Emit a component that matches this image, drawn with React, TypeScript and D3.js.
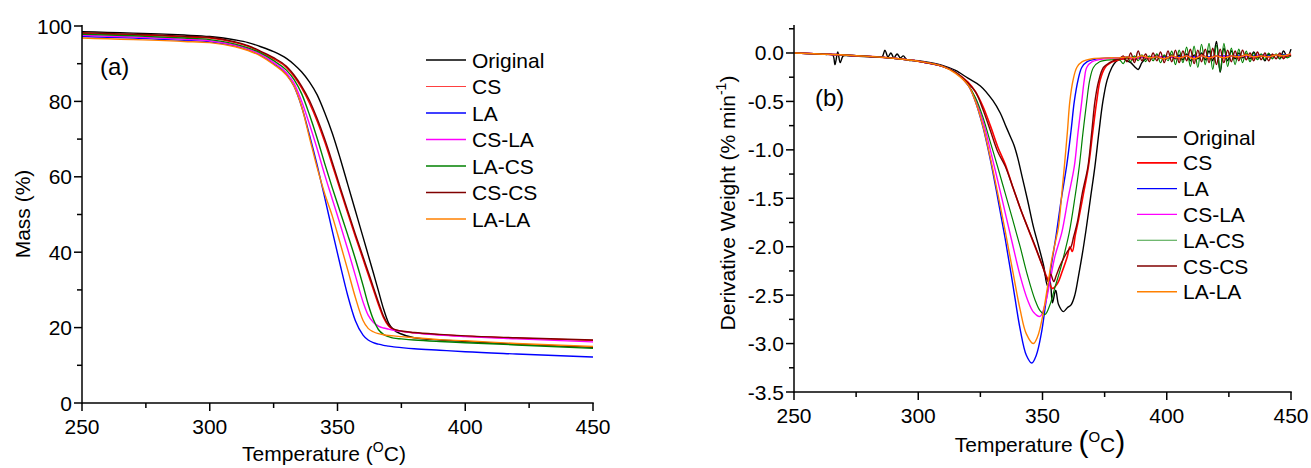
import React from 'react';
import * as d3 from 'd3';

// ---------- shared ----------
const seriesNames = ['Original', 'CS', 'LA', 'CS-LA', 'LA-CS', 'CS-CS', 'LA-LA'];
const seriesColors = ['#000000', '#ff0000', '#0000ff', '#ff00ff', '#008000', '#800000', '#ff8000'];

const xTicksMajor = [250, 300, 350, 400, 450];
const xTicksMinor = [275, 325, 375, 425];

// ---------- panel (a): TGA mass (%) ----------
const massTicksMajor = [0, 20, 40, 60, 80, 100];
const massTicksMinor = [10, 30, 50, 70, 90];

const tgaTemps = [250, 260, 270, 280, 290, 300, 310, 315, 320, 325, 330, 333, 336, 339, 342, 345, 348, 351, 354, 357, 360, 362, 364, 366, 368, 370, 372, 375, 380, 390, 400, 420, 450];

const tgaOriginal = [98.5, 98.3, 98.1, 97.9, 97.6, 97.2, 96.3, 95.6, 94.5, 93.2, 91.4, 89.8, 87.8, 85.2, 81.8, 77.0, 71.5, 65.0, 58.0, 51.0, 44.0, 39.3, 34.6, 29.8, 25.0, 21.2, 19.4, 18.3, 17.3, 16.7, 16.3, 15.6, 14.8];
const tgaCS = [98.0, 97.8, 97.6, 97.4, 97.1, 96.8, 95.6, 94.6, 93.1, 91.3, 89.0, 86.6, 83.5, 79.6, 74.8, 69.2, 63.0, 56.6, 50.3, 44.1, 38.1, 34.1, 30.1, 26.1, 22.6, 20.4, 19.5, 19.0, 18.6, 18.1, 17.7, 17.2, 16.6];
const tgaLA = [97.2, 97.0, 96.8, 96.5, 96.2, 95.8, 94.7, 93.7, 92.2, 90.0, 87.2, 84.0, 78.5, 71.2, 63.2, 54.5, 45.5, 36.8, 28.5, 21.8, 18.0, 16.7, 16.0, 15.6, 15.3, 15.1, 14.9, 14.7, 14.4, 14.0, 13.6, 13.0, 12.2];
const tgaCSLA = [97.5, 97.3, 97.1, 96.8, 96.5, 96.1, 94.9, 93.9, 92.4, 90.3, 87.6, 84.8, 80.0, 74.0, 67.5, 60.5, 54.0, 47.5, 40.8, 33.8, 26.8, 23.3, 21.4, 20.4, 19.9, 19.6, 19.3, 19.0, 18.6, 18.0, 17.6, 17.0, 16.2];
const tgaLACS = [97.8, 97.6, 97.4, 97.1, 96.8, 96.4, 95.2, 94.2, 92.8, 90.8, 88.3, 85.8, 82.0, 76.5, 70.3, 63.5, 57.0, 50.8, 44.6, 38.2, 31.2, 26.2, 22.2, 19.5, 18.2, 17.6, 17.2, 17.0, 16.7, 16.3, 16.0, 15.4, 14.5];
const tgaCSCS = [98.2, 98.0, 97.8, 97.6, 97.3, 97.0, 95.8, 94.8, 93.3, 91.6, 89.3, 87.0, 84.0, 80.3, 75.5, 70.0, 63.8, 57.3, 51.0, 44.8, 38.8, 34.8, 30.8, 26.8, 23.1, 20.7, 19.6, 19.1, 18.7, 18.2, 17.8, 17.3, 16.7];
const tgaLALA = [96.8, 96.6, 96.4, 96.2, 95.9, 95.6, 94.5, 93.5, 92.0, 89.8, 87.0, 84.0, 78.5, 70.5, 62.5, 55.5, 49.5, 42.5, 35.3, 28.0, 21.9, 19.8, 18.9, 18.4, 18.1, 17.9, 17.8, 17.6, 17.3, 16.8, 16.5, 15.8, 15.0];

const tgaSeries = [tgaOriginal, tgaCS, tgaLA, tgaCSLA, tgaLACS, tgaCSCS, tgaLALA];

// ---------- panel (b): DTG derivative weight ----------
const dtgTicksMajor = [0, -0.5, -1.0, -1.5, -2.0, -2.5, -3.0, -3.5];
const dtgTicksMinor = [0.25, -0.25, -0.75, -1.25, -1.75, -2.25, -2.75, -3.25];

const dtgOriginal: [number, number][] = [
  [250, 0], [255, -0.005], [260, -0.01], [263, -0.015], [265.6, -0.02], [266.5, -0.12], [267.6, 0.01], [268.6, -0.1], [269.8, -0.03], [272, -0.03], [276, -0.035], [280, -0.04], [284, -0.045], [285.5, -0.04], [286.6, 0.03], [287.8, -0.04], [289, 0.0], [290.2, -0.05], [291.5, -0.01], [292.8, -0.05], [294, -0.03], [295.5, -0.07], [300, -0.08], [305, -0.1], [310, -0.13], [315, -0.18], [320, -0.26], [325, -0.34], [330, -0.49], [333, -0.62], [335, -0.74], [337, -0.86], [338.5, -0.95], [340, -1.08], [342, -1.3], [344, -1.52], [346.3, -1.79], [348.5, -2.0], [350.5, -2.2], [352, -2.4], [353, -2.35], [354, -2.58], [355.3, -2.45], [356.5, -2.6], [358.4, -2.67], [360, -2.63], [361.5, -2.6], [363, -2.5], [364.5, -2.3], [366, -2.08], [367.5, -1.83], [369.3, -1.5], [371.1, -1.17], [372.7, -0.82], [374.3, -0.5], [376, -0.28], [377.9, -0.15], [379.5, -0.09],
];
const dtgCS: [number, number][] = [
  [250, 0], [260, -0.01], [270, -0.02], [280, -0.035], [290, -0.055], [300, -0.085], [310, -0.14], [315, -0.2], [320, -0.3], [323, -0.4], [326, -0.55], [329, -0.75], [332, -0.97], [335, -1.15], [338, -1.38], [341, -1.6], [344, -1.8], [347, -2.0], [350, -2.2], [352, -2.33], [354, -2.43], [356, -2.38], [358, -2.25], [360, -2.1], [361, -2.0], [362, -2.05], [363.2, -1.88], [364.5, -1.72], [366.5, -1.45], [368.5, -1.17], [370.2, -0.82], [371.8, -0.5], [373.2, -0.28], [375.2, -0.15], [377.5, -0.1], [379.5, -0.08],
];
const dtgLA: [number, number][] = [
  [250, 0], [260, -0.01], [270, -0.02], [280, -0.035], [290, -0.055], [300, -0.085], [310, -0.14], [315, -0.2], [320, -0.33], [323, -0.5], [326, -0.76], [329, -1.1], [332, -1.5], [335, -1.92], [338, -2.38], [341, -2.85], [343.5, -3.12], [345.7, -3.2], [347.5, -3.12], [349.5, -2.9], [351.5, -2.55], [353.5, -2.2], [355.5, -1.88], [357.5, -1.52], [359.8, -1.15], [361.5, -0.8], [362.8, -0.5], [364.3, -0.28], [365.8, -0.15], [368, -0.09], [372, -0.06], [377, -0.05],
];
const dtgCSLA: [number, number][] = [
  [250, 0], [260, -0.01], [270, -0.02], [280, -0.035], [290, -0.055], [300, -0.085], [310, -0.14], [315, -0.2], [320, -0.33], [323, -0.48], [326, -0.7], [329, -1.0], [332, -1.32], [335, -1.65], [338, -1.98], [341, -2.3], [344, -2.55], [346.5, -2.68], [349, -2.72], [351, -2.6], [353, -2.36], [355, -2.1], [357.8, -1.85], [360.3, -1.5], [362.8, -1.17], [364.3, -0.82], [365.8, -0.5], [366.8, -0.28], [367.8, -0.15], [370, -0.09], [375, -0.06],
];
const dtgLACS: [number, number][] = [
  [250, 0], [260, -0.01], [270, -0.02], [280, -0.035], [290, -0.055], [300, -0.085], [310, -0.14], [315, -0.2], [320, -0.33], [323, -0.46], [326, -0.66], [329, -0.92], [332, -1.18], [335, -1.45], [338, -1.72], [341, -2.0], [344, -2.3], [347, -2.55], [349, -2.66], [351, -2.7], [353, -2.6], [355, -2.42], [357, -2.25], [359, -2.05], [360.8, -1.85], [363, -1.5], [364.8, -1.17], [366.3, -0.82], [367.8, -0.5], [369, -0.28], [370.5, -0.15], [373, -0.09], [378, -0.07],
];
const dtgCSCS: [number, number][] = [
  [250, 0], [260, -0.01], [270, -0.02], [280, -0.035], [290, -0.055], [300, -0.085], [310, -0.14], [315, -0.2], [320, -0.31], [323, -0.4], [326, -0.58], [329, -0.8], [332, -1.02], [335, -1.17], [338, -1.38], [341, -1.6], [344, -1.8], [347, -1.99], [350, -2.2], [352.3, -2.36], [353.3, -2.28], [354.5, -2.36], [355.5, -2.3], [357, -2.2], [358.5, -2.12], [360, -2.05], [361.5, -2.0], [362.5, -1.9], [364, -1.75], [366, -1.45], [368.3, -1.17], [369.8, -0.82], [371.1, -0.5], [372.5, -0.3], [374.5, -0.15], [377, -0.1], [379.5, -0.07],
];
const dtgLALA: [number, number][] = [
  [250, 0], [260, -0.01], [270, -0.02], [280, -0.035], [290, -0.055], [300, -0.085], [310, -0.14], [315, -0.21], [320, -0.33], [323, -0.5], [326, -0.75], [329, -1.08], [332, -1.45], [335, -1.84], [338, -2.25], [341, -2.65], [343.5, -2.9], [346.3, -3.0], [348, -2.93], [349.8, -2.75], [351.8, -2.45], [353.8, -2.12], [355.2, -1.95], [356.4, -1.8], [357.6, -1.5], [358.8, -1.17], [360, -0.82], [361, -0.5], [362.3, -0.28], [363.8, -0.15], [366, -0.09], [370, -0.06], [377, -0.05],
];

// noisy tails (380-450 °C)
const noiseT = [381, 382.5, 384, 385.5, 387, 388.5, 390, 391.5, 393, 394.5, 396, 397.5, 399, 400.5, 402, 403.5, 405, 406.5, 408, 409.5, 411, 412.5, 414, 415.5, 417, 418.5, 420, 421.5, 423, 424.5, 426, 427.5, 429, 430.5, 432, 433.5, 435, 436.5, 438, 439.5, 441, 442.5, 444, 445.5, 447, 448.5, 450];
const tailOriginal = [-0.07, -0.06, -0.08, -0.1, -0.14, -0.17, -0.1, -0.06, -0.05, -0.05, -0.04, -0.05, -0.03, -0.05, -0.02, -0.06, -0.02, -0.07, -0.01, -0.08, -0.02, -0.06, 0.0, -0.07, 0.02, -0.08, 0.12, -0.2, 0.05, -0.08, 0.02, -0.06, 0.0, -0.05, -0.01, -0.06, 0.01, -0.05, -0.02, -0.08, -0.01, -0.04, -0.02, -0.06, 0.02, -0.04, 0.04];
const tailLACS = [-0.07, -0.11, -0.04, -0.09, -0.03, -0.08, -0.02, -0.09, -0.03, -0.08, -0.01, -0.1, -0.02, -0.08, 0.02, -0.12, 0.03, -0.1, 0.06, -0.14, 0.07, -0.15, 0.09, -0.12, 0.1, -0.17, 0.08, -0.19, 0.1, -0.14, 0.05, -0.12, 0.04, -0.1, 0.02, -0.09, 0.0, -0.07, -0.01, -0.07, 0.0, -0.06, -0.01, -0.06, -0.02, -0.05, -0.03];
const tailCSCS = [-0.06, -0.03, -0.09, 0.0, -0.1, 0.02, -0.08, -0.01, -0.09, 0.0, -0.08, 0.01, -0.1, 0.02, -0.09, 0.03, -0.1, 0.02, -0.08, 0.04, -0.11, 0.03, -0.09, 0.04, -0.1, 0.05, -0.12, 0.04, -0.1, 0.03, -0.09, 0.02, -0.08, 0.03, -0.07, 0.0, -0.08, 0.01, -0.07, 0.0, -0.08, -0.01, -0.06, 0.0, -0.06, -0.02, -0.03];

const tailT = [381, 384, 387, 390, 393, 396, 399, 402, 405, 408, 411, 414, 417, 420, 423, 426, 429, 432, 435, 438, 441, 444, 447, 450];
const tailCS = [-0.07, -0.05, -0.07, -0.04, -0.06, -0.03, -0.06, -0.04, -0.06, -0.03, -0.06, -0.02, -0.06, -0.03, -0.05, -0.03, -0.05, -0.02, -0.05, -0.03, -0.04, -0.02, -0.04, -0.02];
const tailLA = [-0.05, -0.04, -0.05, -0.04, -0.05, -0.04, -0.04, -0.04, -0.04, -0.03, -0.04, -0.03, -0.04, -0.03, -0.03, -0.03, -0.03, -0.03, -0.03, -0.02, -0.03, -0.02, -0.02, -0.02];
const tailCSLA = [-0.05, -0.04, -0.06, -0.04, -0.05, -0.03, -0.05, -0.04, -0.05, -0.03, -0.05, -0.03, -0.05, -0.03, -0.04, -0.03, -0.04, -0.03, -0.04, -0.02, -0.04, -0.02, -0.03, -0.01];
const tailLALA = [-0.05, -0.04, -0.05, -0.03, -0.05, -0.04, -0.06, -0.03, -0.05, -0.03, -0.06, -0.03, -0.05, -0.03, -0.05, -0.03, -0.04, -0.02, -0.04, -0.03, -0.04, -0.02, -0.03, -0.01];

const zipTail = (t: number[], v: number[]): [number, number][] => t.map((x, i) => [x, v[i]]);

const dtgSeries: [number, number][][] = [
  [...dtgOriginal, ...zipTail(noiseT, tailOriginal)],
  [...dtgCS, ...zipTail(tailT, tailCS)],
  [...dtgLA, ...zipTail(tailT, tailLA)],
  [...dtgCSLA, ...zipTail(tailT, tailCSLA)],
  [...dtgLACS, ...zipTail(noiseT, tailLACS)],
  [...dtgCSCS, ...zipTail(noiseT, tailCSCS)],
  [...dtgLALA, ...zipTail(tailT, tailLALA)],
];

// ---------- layout ----------
const W = 1311;
const H = 468;
const FONT = "'Liberation Sans', Arial, Helvetica, sans-serif";
const FS = 21;

const xA = d3.scaleLinear().domain([250, 450]).range([82, 593]);
const yA = d3.scaleLinear().domain([0, 100]).range([403, 26]);
const xB = d3.scaleLinear().domain([250, 450]).range([794, 1291]);
const yB = d3.scaleLinear().domain([-3.5, 0.29]).range([392, 24.9]);

const lineA = d3
  .line<number>()
  .x((_, i) => xA(tgaTemps[i]))
  .y((d) => yA(d))
  .curve(d3.curveMonotoneX);

const lineB = d3
  .line<[number, number]>()
  .x((d) => xB(d[0]))
  .y((d) => yB(d[1]))
  .curve(d3.curveCatmullRom.alpha(0.5));

type AxesProps = {
  x: d3.ScaleLinear<number, number>;
  y: d3.ScaleLinear<number, number>;
  yMajor: number[];
  yMinor: number[];
  yFmt: (v: number) => string;
  yTop: number;
  xLabelY: number;
};

function Axes({ x, y, yMajor, yMinor, yFmt, yTop, xLabelY }: AxesProps) {
  const x0 = x.range()[0];
  const x1 = x.range()[1];
  const y0 = y.range()[0];
  const stroke = '#000';
  return (
    <g>
      <line x1={x0} y1={y0} x2={x1 + 0.75} y2={y0} stroke={stroke} strokeWidth={1.5} />
      <line x1={x0} y1={y0 + 0.75} x2={x0} y2={yTop} stroke={stroke} strokeWidth={1.5} />
      {xTicksMajor.map((t) => (
        <g key={'xm' + t}>
          <line x1={x(t)} x2={x(t)} y1={y0} y2={y0 + 8} stroke={stroke} strokeWidth={1.5} />
          <text x={x(t)} y={xLabelY} textAnchor="middle" fontSize={FS}>
            {t}
          </text>
        </g>
      ))}
      {xTicksMinor.map((t) => (
        <line key={'xn' + t} x1={x(t)} x2={x(t)} y1={y0} y2={y0 + 5} stroke={stroke} strokeWidth={1.5} />
      ))}
      {yMajor.map((t) => (
        <g key={'ym' + t}>
          <line x1={x0 - 8} x2={x0} y1={y(t)} y2={y(t)} stroke={stroke} strokeWidth={1.5} />
          <text x={x0 - 10} y={y(t) + 7.5} textAnchor="end" fontSize={FS}>
            {yFmt(t)}
          </text>
        </g>
      ))}
      {yMinor.map((t) => (
        <line key={'yn' + t} x1={x0 - 5} x2={x0} y1={y(t)} y2={y(t)} stroke={stroke} strokeWidth={1.5} />
      ))}
    </g>
  );
}

function Legend({ x, y0, dy, widths }: { x: number; y0: number; dy: number; widths: number[] }) {
  return (
    <g>
      {seriesNames.map((n, i) => (
        <g key={n}>
          <line
            x1={x}
            x2={x + 40}
            y1={y0 + i * dy}
            y2={y0 + i * dy}
            stroke={seriesColors[i]}
            strokeWidth={widths[i]}
            strokeOpacity={widths[i] < 1.3 ? 0.75 : 1}
          />
          <text x={x + 46} y={y0 + i * dy + 7.5} fontSize={FS}>
            {n}
          </text>
        </g>
      ))}
    </g>
  );
}

export default function App() {
  const tgaWidths = [1.4, 1.4, 1.4, 1.4, 1.4, 1.4, 1.4];
  const dtgWidths = [1.4, 1.6, 1.4, 1.4, 1.2, 1.4, 1.4];
  return (
    <svg
      width={W}
      height={H}
      viewBox={`0 0 ${W} ${H}`}
      style={{ position: 'absolute', left: 0, top: 0, background: '#fff' }}
      fontFamily={FONT}
    >
      <rect x={0} y={0} width={W} height={H} fill="#fff" />

      {/* ---------- panel (a) ---------- */}
      <g>
        {tgaSeries.map((s, i) => (
          <path key={i} d={lineA(s) || ''} fill="none" stroke={seriesColors[i]} strokeWidth={tgaWidths[i]} strokeLinejoin="round" />
        ))}
        <Axes x={xA} y={yA} yMajor={massTicksMajor} yMinor={massTicksMinor} yFmt={(v) => String(v)} yTop={25} xLabelY={434} />
        <text x={100} y={75} fontSize={24}>(a)</text>
        <Legend x={426} y0={60} dy={26.5} widths={[1.4, 1.1, 1.4, 1.4, 1.4, 1.4, 1.4]} />
        <text x={30} y={214} fontSize={FS} textAnchor="middle" transform="rotate(-90 30 214)">
          Mass (%)
        </text>
        <text x={324} y={461} fontSize={FS} textAnchor="middle">
          Temperature (<tspan fontSize={14} dy={-9}>O</tspan>
          <tspan dy={9}>C)</tspan>
        </text>
      </g>

      {/* ---------- panel (b) ---------- */}
      <g>
        {dtgSeries.map((s, i) => (
          <path key={i} d={lineB(s) || ''} fill="none" stroke={seriesColors[i]} strokeWidth={dtgWidths[i]} strokeLinejoin="round" />
        ))}
        <Axes x={xB} y={yB} yMajor={dtgTicksMajor} yMinor={dtgTicksMinor} yFmt={(v) => d3.format('.1f')(v).replace('−', '-')} yTop={yB(0.29)} xLabelY={423} />
        <text x={815} y={106} fontSize={24}>(b)</text>
        <Legend x={1137} y0={137} dy={25.8} widths={[1.4, 1.8, 1.4, 1.4, 1.1, 1.6, 1.4]} />
        <text x={735} y={203} fontSize={FS} textAnchor="middle" transform="rotate(-90 735 203)">
          Derivative Weight (% min<tspan fontSize={14} dy={-9}>-1</tspan>
          <tspan dy={9}>)</tspan>
        </text>
        <text x={1040} y={452} fontSize={FS} textAnchor="middle">
          Temperature <tspan fontSize={30}>(</tspan>
          <tspan fontSize={15} dy={-10}>O</tspan>
          <tspan dy={10}>C</tspan>
          <tspan fontSize={30}>)</tspan>
        </text>
      </g>
    </svg>
  );
}
